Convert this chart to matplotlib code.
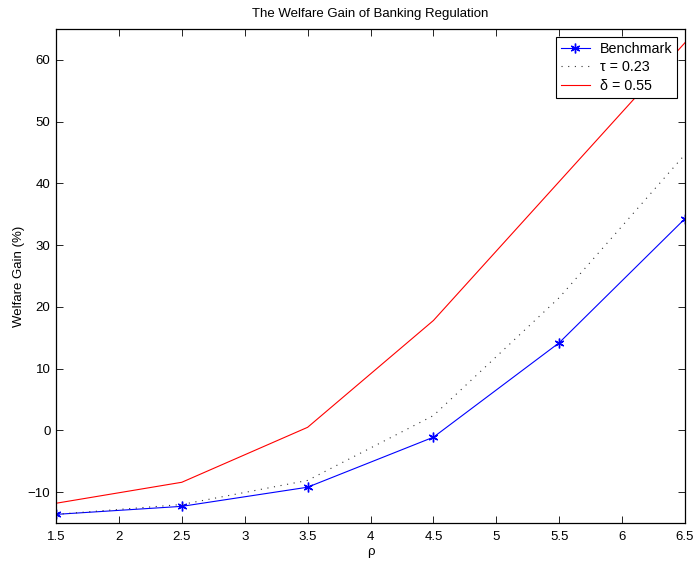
import numpy as np
import matplotlib.pyplot as plt

plt.rcParams['font.family'] = ['Liberation Sans', 'DejaVu Sans']
plt.rcParams['font.size'] = 9.5

rho = [1.5, 2.5, 3.5, 4.5, 5.5, 6.5]
benchmark = [-13.6, -12.3, -9.2, -1.1, 14.2, 34.3]
tau_023 = [-13.6, -12.0, -8.1, 2.4, 21.5, 44.7]
delta_055 = [-11.8, -8.4, 0.5, 17.8, 40.3, 62.8]

fig = plt.figure(figsize=(6.93, 5.61), dpi=100)
ax = fig.add_axes([0.0808, 0.0677, 0.9077, 0.8805])

# six-armed asterisk like MATLAB's '*'
ax.plot(rho, benchmark, color='blue', marker=(6, 2, 0), markersize=7, mew=1.0,
        lw=0.8, label='Benchmark')
ax.plot(rho, tau_023, color='0.2', ls=(0, (1, 5)), lw=0.8, label='τ = 0.23')
ax.plot(rho, delta_055, color='red', lw=0.8, label='δ = 0.55')

ax.set_xlim(1.5, 6.5)
ax.set_ylim(-15, 65)
ax.set_xticks(np.arange(1.5, 6.51, 0.5))
ax.set_xticklabels(['1.5', '2', '2.5', '3', '3.5', '4', '4.5', '5', '5.5', '6', '6.5'])
ax.set_yticks(np.arange(-10, 61, 10))
ax.set_yticklabels(['\u221210', '0', '10', '20', '30', '40', '50', '60'])
ax.tick_params(direction='in', top=True, right=True, length=5, width=0.6)
ax.tick_params(axis='x', pad=6)
ax.tick_params(axis='y', pad=4)
for s in ax.spines.values():
    s.set_linewidth(0.9)

ax.set_xlabel('ρ', labelpad=2)
ax.set_ylabel('Welfare Gain (%)', labelpad=2)
ax.set_title('The Welfare Gain of Banking Regulation', fontsize=9.5, pad=9)

leg = ax.legend(loc='upper right', fancybox=False, edgecolor='black', framealpha=1,
                borderaxespad=0.55, handlelength=2.0, handletextpad=0.7,
                labelspacing=0.3, borderpad=0.35, fontsize=10.3)
leg.get_frame().set_linewidth(0.8)

fig.savefig('out.png', dpi=100)
